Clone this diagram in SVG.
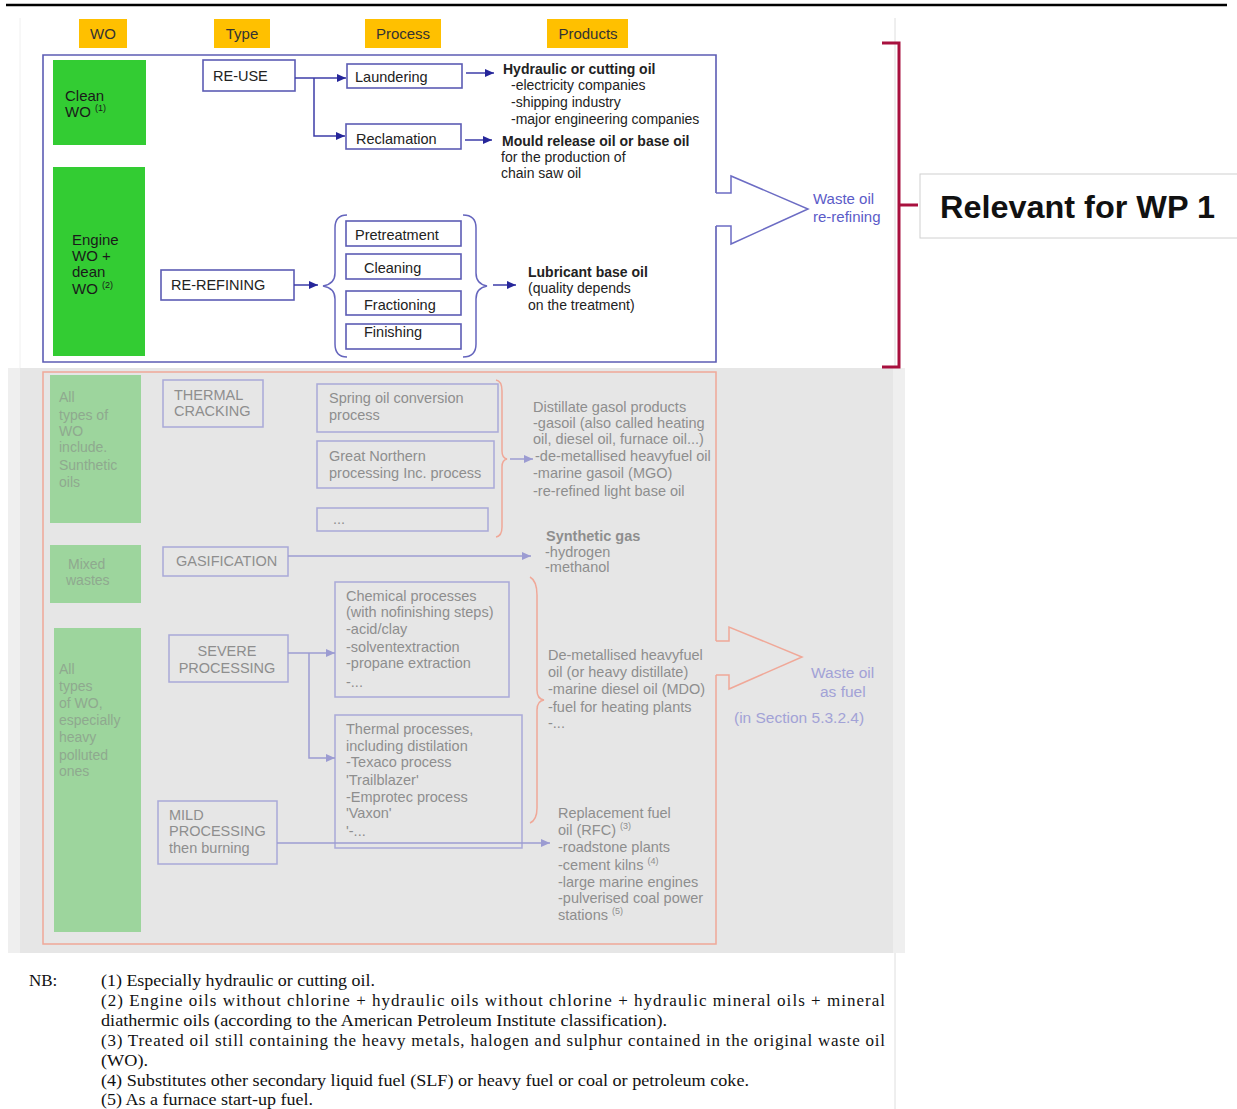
<svg xmlns="http://www.w3.org/2000/svg" width="1237" height="1109" viewBox="0 0 1237 1109">
<defs>
<style>
text{font-family:"Liberation Sans",Arial,sans-serif;}
.hdr{font-size:15px;fill:#333;text-anchor:middle;}
.ybox{fill:#ffc000;}
.g1{fill:#33cc33;}
.g2{fill:#9dd59d;}
.gt1{font-size:15px;fill:#1a1a1a;}
.gt2{font-size:14px;fill:#8fa98f;}
.bx{fill:#ffffff;stroke:#5c5cb4;stroke-width:1.6;}
.bt{font-size:14.5px;fill:#222;}
.pt{font-size:14px;fill:#222;}
.pb{font-weight:bold;}
.gbx{fill:none;stroke:#a9a9d8;stroke-width:1.5;}
.gtx{font-size:14.5px;fill:#8e8e8e;}
.con{fill:none;stroke:#3c3ca8;stroke-width:1.5;}
.gcon{fill:none;stroke:#9c9cd2;stroke-width:1.5;}
.brace{fill:none;stroke:#6565bd;stroke-width:1.5;}
.sbrace{fill:none;stroke:#f0a898;stroke-width:1.5;}
.note{font-family:"Liberation Serif","Times New Roman",serif;font-size:17px;fill:#111;}
</style>
<marker id="arr" markerUnits="userSpaceOnUse" markerWidth="10" markerHeight="8" refX="9" refY="4" orient="auto"><path d="M0,0 L9,4 L0,8 z" fill="#26269a"/></marker>
<marker id="garr" markerUnits="userSpaceOnUse" markerWidth="10" markerHeight="8" refX="9" refY="4" orient="auto"><path d="M0,0 L9,4 L0,8 z" fill="#9c9cd2"/></marker>
</defs>
<rect x="0" y="0" width="1237" height="1109" fill="#ffffff"/>
<line x1="6" y1="5" x2="1227" y2="5" stroke="#000" stroke-width="2.5"/>
<line x1="20" y1="18" x2="20" y2="368" stroke="#f0f0f0" stroke-width="1"/>
<line x1="895" y1="18" x2="895" y2="1109" stroke="#dedede" stroke-width="1"/>
<rect x="8" y="368" width="897" height="585" fill="#efefef"/>
<rect x="20" y="368" width="873" height="585" fill="#e6e6e6"/>

<g id="headers">
<rect class="ybox" x="79" y="19" width="48" height="29"/><text class="hdr" x="103" y="39">WO</text>
<rect class="ybox" x="214" y="19" width="56" height="29"/><text class="hdr" x="242" y="39">Type</text>
<rect class="ybox" x="365" y="19" width="76" height="29"/><text class="hdr" x="403" y="39">Process</text>
<rect class="ybox" x="547" y="19" width="81" height="29"/><text class="hdr" x="588" y="39">Products</text>
</g>

<g id="rerefining-frame">
<path d="M716 193 V55 H43 V362 H716 V226" fill="none" stroke="#5c5cb4" stroke-width="1.6"/>
<path d="M716 193 H731 V176 L808 209 L731 244 V226 H716" fill="#ffffff" stroke="#6c6cc4" stroke-width="1.5"/>
<text x="813" y="204" font-size="15" fill="#5b5bc8">Waste oil</text>
<text x="813" y="222" font-size="15" fill="#5b5bc8">re-refining</text>
</g>

<g id="clean-wo"><rect class="g1" x="53" y="60" width="93" height="85"/>
<text class="gt1" x="65" y="101">Clean</text>
<text class="gt1" x="65" y="117">WO <tspan font-size="9" dy="-6">(1)</tspan></text></g>
<g id="engine-wo"><rect class="g1" x="53" y="167" width="92" height="189"/>
<text class="gt1" x="72" y="245">Engine</text>
<text class="gt1" x="72" y="261">WO +</text>
<text class="gt1" x="72" y="277">dean</text>
<text class="gt1" x="72" y="294">WO <tspan font-size="9" dy="-6">(2)</tspan></text></g>

<g id="re-use"><rect class="bx" x="203" y="60" width="92" height="31"/><text class="bt" x="213" y="81">RE-USE</text></g>
<g id="laundering"><rect class="bx" x="347" y="64" width="115" height="24"/><text class="bt" x="355" y="82">Laundering</text></g>
<g id="reclamation"><rect class="bx" x="346" y="124" width="115" height="25"/><text class="bt" x="356" y="144">Reclamation</text></g>
<g id="re-refining"><rect class="bx" x="161" y="270" width="133" height="30"/><text class="bt" x="171" y="290">RE-REFINING</text></g>
<g id="pretreatment"><rect class="bx" x="346" y="221" width="115" height="25"/><text class="bt" x="355" y="240">Pretreatment</text></g>
<g id="cleaning"><rect class="bx" x="346" y="254" width="115" height="25"/><text class="bt" x="364" y="273">Cleaning</text></g>
<g id="fractioning"><rect class="bx" x="346" y="291" width="115" height="24"/><text class="bt" x="364" y="310">Fractioning</text></g>
<g id="finishing"><rect class="bx" x="346" y="324" width="115" height="25"/><text class="bt" x="364" y="337">Finishing</text></g>

<g id="products-hydraulic">
<text class="pt pb" x="503" y="74">Hydraulic or cutting oil</text>
<text class="pt" x="511" y="90">-electricity companies</text>
<text class="pt" x="511" y="107">-shipping industry</text>
<text class="pt" x="511" y="124">-major engineering companies</text>
</g>
<g id="products-mould">
<text class="pt pb" x="502" y="146">Mould release oil or base oil</text>
<text class="pt" x="501" y="162">for the production of</text>
<text class="pt" x="501" y="178">chain saw oil</text>
</g>
<g id="products-lubricant">
<text class="pt pb" x="528" y="277">Lubricant base oil</text>
<text class="pt" x="528" y="293">(quality depends</text>
<text class="pt" x="528" y="310">on the treatment)</text>
</g>

<g id="wp1-bracket">
<path d="M882 43 H899 V367 H882" fill="none" stroke="#a8103e" stroke-width="3"/>
<path d="M899 205 H918" fill="none" stroke="#a8103e" stroke-width="3"/>
</g>
<g id="relevant-wp1">
<rect x="920" y="174" width="320" height="64" fill="#ffffff" stroke="#d0d0d0" stroke-width="1"/>
<text x="940" y="218" font-size="32" font-weight="bold" fill="#111" textLength="275" lengthAdjust="spacingAndGlyphs">Relevant for WP 1</text>
</g>

<g id="fuel-frame">
<path d="M716 641 V372 H43 V944 H716 V675" fill="none" stroke="#f0a898" stroke-width="1.5"/>
<path d="M716 641 H729 V627 L802 657 L729 689 V675 H716" fill="none" stroke="#f0a898" stroke-width="1.5"/>
<text x="811" y="678" font-size="15.5" fill="#a2a2d6">Waste oil</text>
<text x="820" y="697" font-size="15.5" fill="#a2a2d6">as fuel</text>
<text x="734" y="723" font-size="15.5" fill="#a2a2d6">(in Section 5.3.2.4)</text>
</g>

<g id="all-types-synthetic"><rect class="g2" x="50" y="375" width="91" height="148"/>
<text class="gt2" x="59" y="402">All</text>
<text class="gt2" x="59" y="420">types of</text>
<text class="gt2" x="59" y="436">WO</text>
<text class="gt2" x="59" y="452">include.</text>
<text class="gt2" x="59" y="470">Sunthetic</text>
<text class="gt2" x="59" y="487">oils</text></g>
<g id="mixed-wastes"><rect class="g2" x="50" y="545" width="91" height="58"/>
<text class="gt2" x="68" y="569">Mixed</text>
<text class="gt2" x="66" y="585">wastes</text></g>
<g id="all-types-polluted"><rect class="g2" x="54" y="628" width="87" height="304"/>
<text class="gt2" x="59" y="674">All</text>
<text class="gt2" x="59" y="691">types</text>
<text class="gt2" x="59" y="708">of WO,</text>
<text class="gt2" x="59" y="725">especially</text>
<text class="gt2" x="59" y="742">heavy</text>
<text class="gt2" x="59" y="760">polluted</text>
<text class="gt2" x="59" y="776">ones</text></g>

<g id="thermal-cracking"><rect class="gbx" x="163" y="380" width="100" height="47"/>
<text class="gtx" x="174" y="400" font-size="14">THERMAL</text>
<text class="gtx" x="174" y="416" font-size="14">CRACKING</text></g>
<g id="spring-oil"><rect class="gbx" x="317" y="384" width="181" height="48"/>
<text class="gtx" x="329" y="403">Spring oil conversion</text>
<text class="gtx" x="329" y="420">process</text></g>
<g id="great-northern"><rect class="gbx" x="317" y="441" width="177" height="47"/>
<text class="gtx" x="329" y="461">Great Northern</text>
<text class="gtx" x="329" y="478">processing Inc. process</text></g>
<g id="other-cracking"><rect class="gbx" x="317" y="508" width="171" height="23"/>
<text class="gtx" x="333" y="524" font-size="10">...</text></g>
<g id="distillate">
<text class="gtx" x="533" y="412">Distillate gasol products</text>
<text class="gtx" x="533" y="428">-gasoil (also called heating</text>
<text class="gtx" x="533" y="444">oil, diesel oil, furnace oil...)</text>
<text class="gtx" x="535" y="461">-de-metallised heavyfuel oil</text>
<text class="gtx" x="533" y="478">-marine gasoil (MGO)</text>
<text class="gtx" x="533" y="496">-re-refined light base oil</text>
</g>
<g id="gasification"><rect class="gbx" x="163" y="547" width="125" height="29"/>
<text class="gtx" x="176" y="566">GASIFICATION</text></g>
<g id="synthetic-gas">
<text class="gtx" x="546" y="541" font-weight="bold">Synthetic gas</text>
<text class="gtx" x="545" y="557">-hydrogen</text>
<text class="gtx" x="545" y="572">-methanol</text>
</g>
<g id="severe-processing"><rect class="gbx" x="169" y="635" width="119" height="47"/>
<text class="gtx" x="227" y="656" text-anchor="middle">SEVERE</text>
<text class="gtx" x="227" y="673" text-anchor="middle">PROCESSING</text></g>
<g id="chemical-processes"><rect class="gbx" x="335" y="582" width="174" height="115"/>
<text class="gtx" x="346" y="601">Chemical processes</text>
<text class="gtx" x="346" y="617">(with nofinishing steps)</text>
<text class="gtx" x="346" y="634">-acid/clay</text>
<text class="gtx" x="346" y="652">-solventextraction</text>
<text class="gtx" x="346" y="668">-propane extraction</text>
<text class="gtx" x="346" y="687">-...</text></g>
<g id="thermal-processes"><rect class="gbx" x="335" y="715" width="187" height="133"/>
<text class="gtx" x="346" y="734">Thermal processes,</text>
<text class="gtx" x="346" y="751">including distilation</text>
<text class="gtx" x="346" y="767">-Texaco process</text>
<text class="gtx" x="346" y="785">'Trailblazer'</text>
<text class="gtx" x="346" y="802">-Emprotec process</text>
<text class="gtx" x="346" y="818">'Vaxon'</text>
<text class="gtx" x="346" y="836">'-...</text></g>
<g id="mild-processing"><rect class="gbx" x="158" y="801" width="119" height="63"/>
<text class="gtx" x="169" y="820">MILD</text>
<text class="gtx" x="169" y="836">PROCESSING</text>
<text class="gtx" x="169" y="853">then burning</text></g>
<g id="heavy-fuel">
<text class="gtx" x="548" y="660">De-metallised heavyfuel</text>
<text class="gtx" x="548" y="677">oil (or heavy distillate)</text>
<text class="gtx" x="548" y="694">-marine diesel oil (MDO)</text>
<text class="gtx" x="548" y="712">-fuel for heating plants</text>
<text class="gtx" x="548" y="728">-...</text>
</g>
<g id="replacement-fuel">
<text class="gtx" x="558" y="818">Replacement fuel</text>
<text class="gtx" x="558" y="835">oil (RFC) <tspan font-size="9" dy="-6">(3)</tspan></text>
<text class="gtx" x="558" y="852">-roadstone plants</text>
<text class="gtx" x="558" y="870">-cement kilns <tspan font-size="9" dy="-6">(4)</tspan></text>
<text class="gtx" x="558" y="887">-large marine engines</text>
<text class="gtx" x="558" y="903">-pulverised coal power</text>
<text class="gtx" x="558" y="920">stations <tspan font-size="9" dy="-6">(5)</tspan></text>
</g>

<g id="connectors">
<path class="con" d="M295 78 H346" marker-end="url(#arr)"/>
<path class="con" d="M314 78 V136 H345" marker-end="url(#arr)"/>
<path class="con" d="M466 73 H494" marker-end="url(#arr)"/>
<path class="con" d="M465 140 H492" marker-end="url(#arr)"/>
<path class="con" d="M294 285 H318" marker-end="url(#arr)"/>
<path class="con" d="M493 285 H516" marker-end="url(#arr)"/>
<path class="brace" d="M347 215 Q335 215 335 228 V273 Q335 284 323 286 Q335 288 335 299 V344 Q335 357 347 357"/>
<path class="brace" d="M463 215 Q476 215 476 228 V273 Q476 284 487 286 Q476 288 476 299 V344 Q476 357 463 357"/>
<path class="sbrace" d="M496 380 Q502 381 502 391 V451 Q502 458 507 459 Q502 460 502 467 V527 Q502 536 496 537"/>
<path class="sbrace" d="M530 577 Q537 581 537 595 V690 Q537 699 544 700 Q537 701 537 710 V808 Q537 820 530 823"/>
<path class="gcon" d="M510 459 H533" marker-end="url(#garr)"/>
<path class="gcon" d="M288 556 H531" marker-end="url(#garr)"/>
<path class="gcon" d="M288 653 H335" marker-end="url(#garr)"/>
<path class="gcon" d="M309 653 V758 H335" marker-end="url(#garr)"/>
<path class="gcon" d="M277 843 H550" marker-end="url(#garr)"/>
</g>

<g id="notes">
<text class="note" x="29" y="986">NB:</text>
<text class="note" x="101" y="986" textLength="274" lengthAdjust="spacingAndGlyphs">(1) Especially hydraulic or cutting oil.</text>
<text class="note" x="101" y="1006" textLength="784" lengthAdjust="spacing">(2) Engine oils without chlorine + hydraulic oils without chlorine + hydraulic mineral oils + mineral</text>
<text class="note" x="101" y="1026" textLength="566" lengthAdjust="spacingAndGlyphs">diathermic oils (according to the American Petroleum Institute classification).</text>
<text class="note" x="101" y="1046" textLength="784" lengthAdjust="spacing">(3) Treated oil still containing the heavy metals, halogen and sulphur contained in the original waste oil</text>
<text class="note" x="101" y="1066" textLength="47" lengthAdjust="spacingAndGlyphs">(WO).</text>
<text class="note" x="101" y="1086" textLength="648" lengthAdjust="spacingAndGlyphs">(4) Substitutes other secondary liquid fuel (SLF) or heavy fuel or coal or petroleum coke.</text>
<text class="note" x="101" y="1105" textLength="212" lengthAdjust="spacingAndGlyphs">(5) As a furnace start-up fuel.</text>
</g>
</svg>
